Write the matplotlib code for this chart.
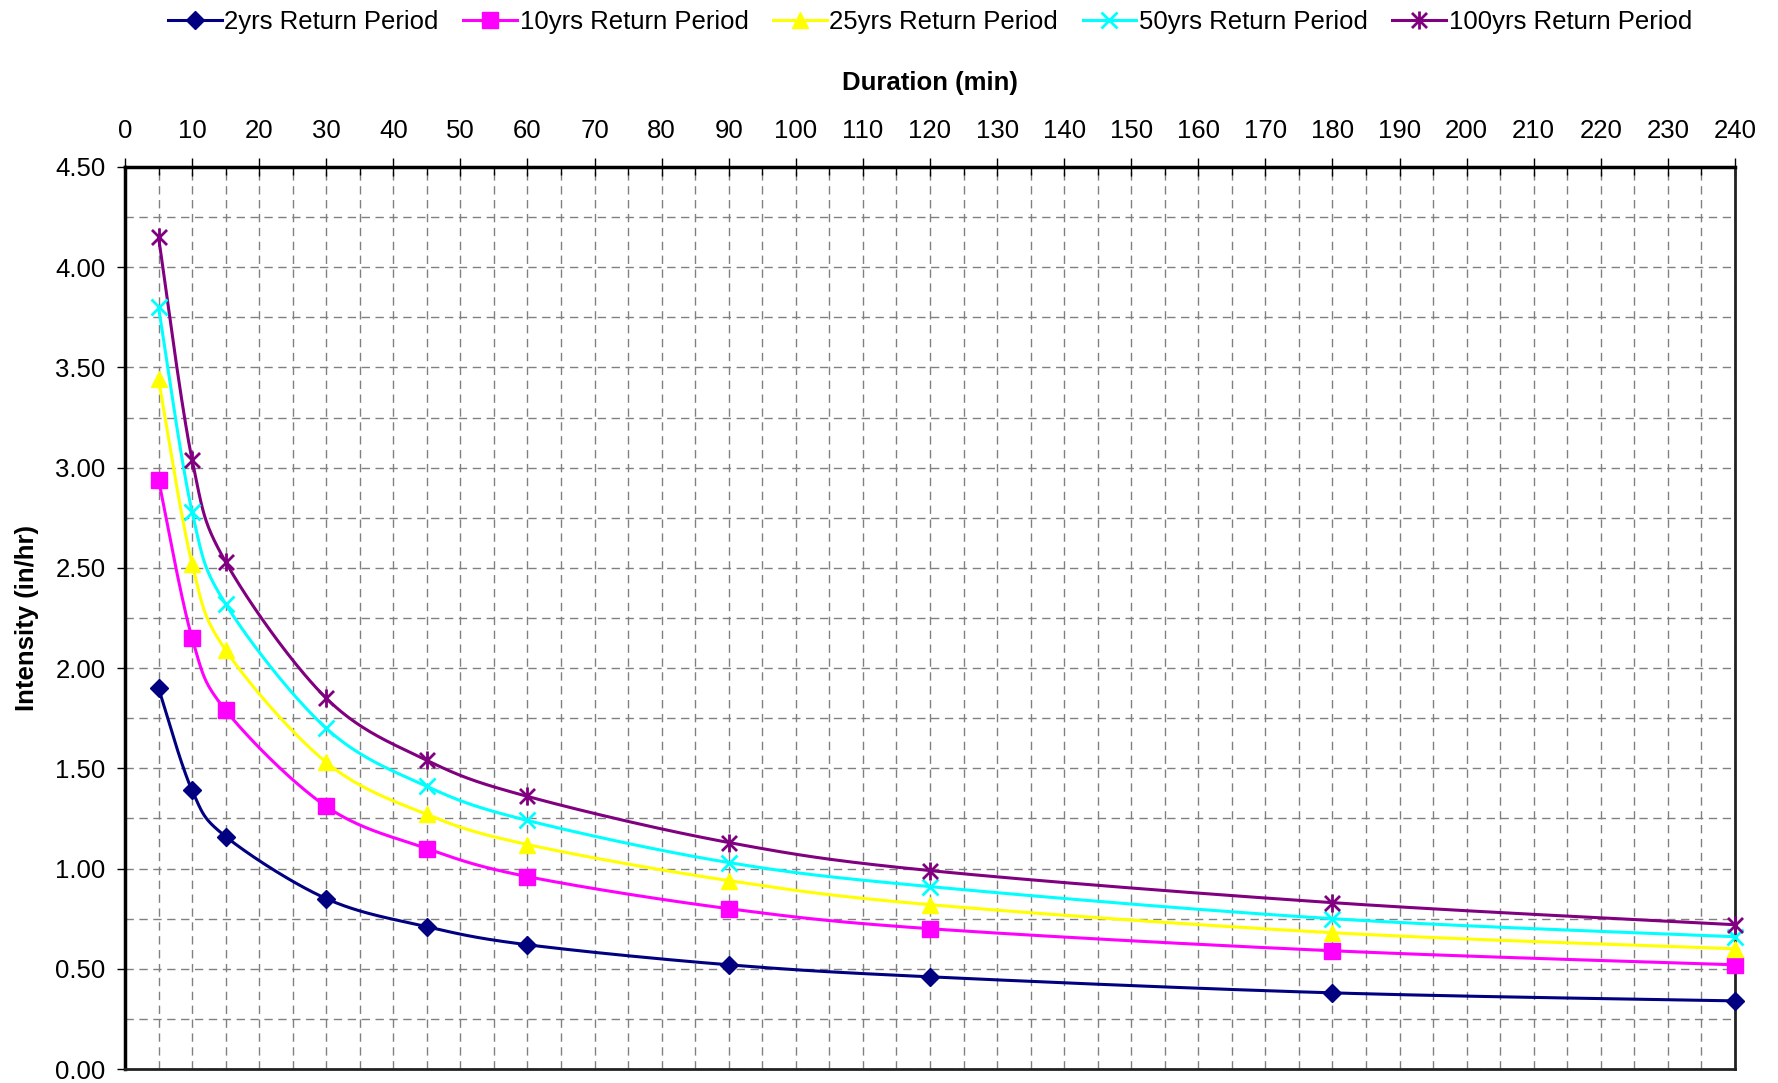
import numpy as np
import matplotlib
matplotlib.use("Agg")
import matplotlib.pyplot as plt
from matplotlib.path import Path
from matplotlib.ticker import MultipleLocator, FormatStrFormatter

plt.rcParams['font.family'] = ['Liberation Sans', 'DejaVu Sans']

durations = [5, 10, 15, 30, 45, 60, 90, 120, 180, 240]
series_names = ["2yrs Return Period", "10yrs Return Period", "25yrs Return Period",
                "50yrs Return Period", "100yrs Return Period"]
i_2yr = [1.90, 1.39, 1.16, 0.85, 0.71, 0.62, 0.52, 0.46, 0.38, 0.34]
i_10yr = [2.94, 2.15, 1.79, 1.31, 1.10, 0.96, 0.80, 0.70, 0.59, 0.52]
i_25yr = [3.44, 2.52, 2.09, 1.53, 1.27, 1.12, 0.94, 0.82, 0.68, 0.60]
i_50yr = [3.80, 2.78, 2.32, 1.70, 1.41, 1.24, 1.03, 0.91, 0.75, 0.66]
i_100yr = [4.15, 3.04, 2.53, 1.85, 1.54, 1.36, 1.13, 0.99, 0.83, 0.72]
all_series = [i_2yr, i_10yr, i_25yr, i_50yr, i_100yr]

colors = ["#000080", "#FF00FF", "#FFFF00", "#00FFFF", "#800080"]

star = Path([(-1, -1), (1, 1), (-1, 1), (1, -1), (0, -1.2), (0, 1.2)],
            [Path.MOVETO, Path.LINETO, Path.MOVETO, Path.LINETO, Path.MOVETO, Path.LINETO])
markers = ["D", "s", "^", "x", star]
msizes = [9, 11, 11, 12, 13]


def smooth(x, y, n=40):
    x = np.asarray(x, float)
    y = np.asarray(y, float)
    P = np.column_stack([x, y])
    out = [P[0]]
    for i in range(len(P) - 1):
        p0 = P[i - 1] if i > 0 else P[i]
        p1 = P[i]
        p2 = P[i + 1]
        p3 = P[i + 2] if i + 2 < len(P) else P[i + 1]
        c1 = p1 + (p2 - p0) / 6.0
        c2 = p2 - (p3 - p1) / 6.0
        t = np.linspace(0, 1, n)[1:, None]
        b = ((1 - t) ** 3) * p1 + 3 * ((1 - t) ** 2) * t * c1 + 3 * (1 - t) * t ** 2 * c2 + t ** 3 * p2
        out.extend(b)
    out = np.array(out)
    return out[:, 0], out[:, 1]


fig = plt.figure(figsize=(17.78, 10.83), dpi=100)
ax = fig.add_axes([0.0703, 0.0129, 0.9055, 0.8329])

ax.set_xlim(0, 240)
ax.set_ylim(0, 4.5)

handles = []
for name, vals, c, m, ms in zip(series_names, all_series, colors, markers, msizes):
    sx, sy = smooth(durations, vals)
    ax.plot(sx, sy, color=c, lw=2.2, zorder=3, solid_capstyle='butt')
    filled = m not in ("x",) and not isinstance(m, Path)
    mew = 1.0 if filled else 2.0
    ax.plot(durations, vals, linestyle='none', marker=m, markersize=ms,
            color=c, markeredgewidth=mew, zorder=4, clip_on=False)
    h, = ax.plot([], [], color=c, lw=2.2, marker=m, markersize=ms, markeredgewidth=mew)
    handles.append(h)

ax.xaxis.tick_top()
ax.xaxis.set_label_position('top')
ax.xaxis.set_major_locator(MultipleLocator(10))
ax.xaxis.set_minor_locator(MultipleLocator(5))
ax.yaxis.set_major_locator(MultipleLocator(0.5))
ax.yaxis.set_minor_locator(MultipleLocator(0.25))
ax.yaxis.set_major_formatter(FormatStrFormatter('%.2f'))

ax.tick_params(axis='x', which='major', direction='inout', length=13, width=1.0,
               pad=10.5, labelsize=18.5, top=True, bottom=False)
ax.tick_params(axis='x', which='minor', direction='in', length=6, width=1.0,
               top=True, bottom=False)
ax.tick_params(axis='y', which='major', direction='out', length=6, width=1.0,
               pad=8, labelsize=18.5)
ax.tick_params(axis='y', which='minor', length=0)

ax.grid(True, which='both', axis='both', color='#808080', linestyle=(0, (6, 4)), lw=1.0)
ax.set_axisbelow(True)

for s in ['left', 'top']:
    ax.spines[s].set_linewidth(2.5)
    ax.spines[s].set_color('black')
for s in ['right', 'bottom']:
    ax.spines[s].set_linewidth(2.0)
    ax.spines[s].set_color('#222222')

ax.set_xlabel("Duration (min)", fontsize=18.5, fontweight='bold', labelpad=21)
ax.set_ylabel("Intensity (in/hr)", fontsize=18.5, fontweight='bold', labelpad=12)

fig.legend(handles, series_names, loc='center', bbox_to_anchor=(0.523, 0.9795),
           ncol=5, frameon=False, fontsize=18.5, handlelength=2.1,
           handletextpad=0.1, columnspacing=0.95, borderpad=0)

fig.savefig("out.png", dpi=100)
